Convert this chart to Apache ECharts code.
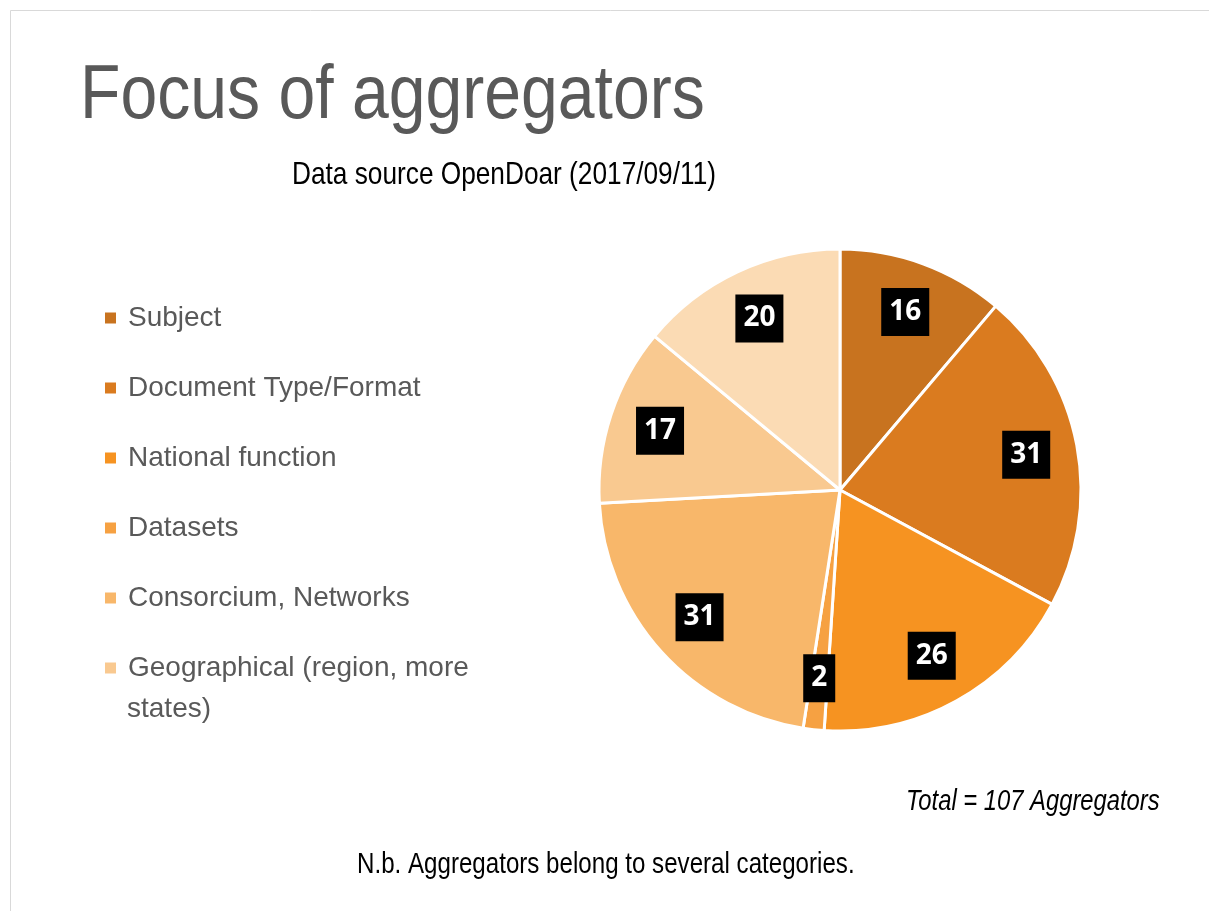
<!DOCTYPE html>
<html>
<head>
<meta charset="utf-8">
<title>Focus of aggregators</title>
<script src="https://cdn.jsdelivr.net/npm/echarts@6/dist/echarts.min.js"></script>
<style>
  html, body { margin: 0; padding: 0; background: #fff; }
  #chart { width: 1209px; height: 911px; }
</style>
</head>
<body>
<div id="chart"></div>
<script>
// categories and values
var categories = ['Subject', 'Document Type/Format', 'National function', 'Datasets',
    'Consorcium, Networks', 'Geographical (region, more states)', 'Other'];
var values = [16, 31, 26, 2, 31, 17, 20];
var colors = ['#C8731F', '#DA7B1F', '#F69321', '#F6A142', '#F8B76A', '#F9C990', '#FBDBB4'];
// only six entries are shown in the legend of the original
var legendNames = categories.slice(0, 6);

var chart = echarts.init(document.getElementById('chart'));

var pieData = [];
for (var i = 0; i < categories.length; i++) {
    pieData.push({ name: categories[i], value: values[i], itemStyle: { color: colors[i] } });
}

var sans = '"Liberation Sans", Arial, sans-serif';

// slide texts are in a condensed face, so squeeze them horizontally
function slideText(txt, x, y, size, scaleX, color, italic) {
    return {
        type: 'text',
        x: x,
        y: y,
        scaleX: scaleX,
        silent: true,
        style: {
            text: txt,
            fontFamily: sans,
            fontSize: size,
            fontStyle: italic ? 'italic' : 'normal',
            fill: color,
            verticalAlign: 'middle',
            align: 'left'
        }
    };
}

var option = {
    backgroundColor: '#fff',
    animation: false,
    graphic: [
        {
            type: 'rect',
            shape: { x: 10.5, y: 10.5, width: 1300, height: 1000 },
            style: { fill: 'none', stroke: '#d9d9d9', lineWidth: 1 },
            silent: true
        },
        slideText('Focus of aggregators', 80, 97, 76, 0.87, '#595959'),
        slideText('Data source OpenDoar (2017/09/11)', 292, 175, 32, 0.82, '#000'),
        slideText('Total = 107 Aggregators', 906, 802, 29, 0.82, '#000', true),
        slideText('N.b. Aggregators belong to several categories.', 357, 865, 29, 0.832, '#000'),
        // second line of the last legend entry
        {
            type: 'text', x: 127, y: 709, silent: true,
            style: { text: 'states)', fontFamily: sans, fontSize: 28, fill: '#595959', verticalAlign: 'middle' }
        }
    ],
    legend: {
        data: legendNames,
        orient: 'vertical',
        left: 98,
        top: 293,
        icon: 'rect',
        itemWidth: 13,
        itemHeight: 13,
        itemGap: 30,
        selectedMode: false,
        formatter: function (name) {
            return name.replace(' states)', '');
        },
        textStyle: {
            fontFamily: sans,
            fontSize: 28,
            lineHeight: 40,
            color: '#595959',
            padding: [0, 0, 0, 6]
        }
    },
    series: [{
        name: 'Focus',
        type: 'pie',
        center: [840, 490],
        radius: [0, 241],
        startAngle: 90,
        data: pieData,
        itemStyle: { borderColor: '#fff', borderWidth: 3 },
        label: { show: false },
        labelLine: { show: false },
        emphasis: { disabled: true }
    }, {
        // transparent ring, only used to place the labels further out
        name: 'Labels',
        type: 'pie',
        center: [840, 490],
        radius: [132, 241],
        startAngle: 90,
        silent: true,
        data: pieData.map(function (d) {
            return { name: d.name, value: d.value, itemStyle: { color: 'rgba(0,0,0,0)' } };
        }),
        itemStyle: { borderWidth: 0 },
        label: {
            show: true,
            position: 'inside',
            formatter: '{c}',
            fontFamily: '"Open Sans", sans-serif',
            fontWeight: 'bold',
            fontSize: 28,
            lineHeight: 30,
            color: '#fff',
            backgroundColor: '#000',
            padding: [9, 8, 9, 8]
        },
        labelLine: { show: false },
        emphasis: { disabled: true }
    }]
};

chart.setOption(option);
</script>
</body>
</html>
